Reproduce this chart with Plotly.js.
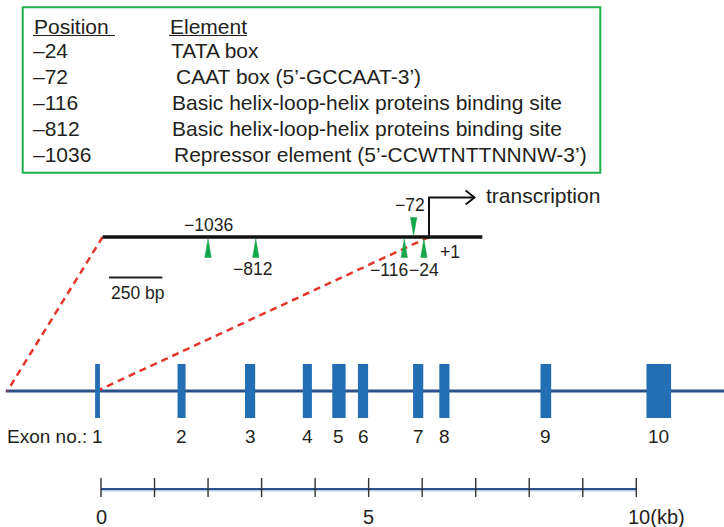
<!DOCTYPE html>
<html><head><meta charset="utf-8">
<script src="https://cdn.plot.ly/plotly-3.0.1.min.js"></script>
<style>html,body{margin:0;padding:0;background:#fff}</style>
</head><body><div id="chart" style="width:724px;height:527px"></div>
<script>
// ---------- data ----------
const tableHeaders = ['Position', 'Element'];
const tablePositions = ['–24', '–72', '–116', '–812', '–1036'];
const tableElements = ['TATA box', 'CAAT box (5’-GCCAAT-3’)', 'Basic helix-loop-helix proteins binding site',
  'Basic helix-loop-helix proteins binding site', 'Repressor element (5’-CCWTNTTNNNW-3’)'];

// promoter elements, bp relative to transcription start (+1)
const elementPos = [-1036, -812, -116, -72, -24];
const elementLabels = ['−1036', '−812', '−116', '−72', '−24'];
const elementAbove = [false, false, false, true, false];
const promoterStartBp = -1530;
const promoterEndBp = 250;
const scaleBarBp = 250;

// exons, kb
const exonNames = ['1', '2', '3', '4', '5', '6', '7', '8', '9', '10'];
const exonStart = [-0.11, 1.43, 2.69, 3.77, 4.32, 4.80, 5.83, 6.32, 8.21, 10.19];
const exonEnd   = [-0.02, 1.58, 2.88, 3.94, 4.57, 4.99, 6.02, 6.51, 8.41, 10.65];
const geneStartKb = -1.78;
const geneEndKb = 11.7;
const scaleTicksKb = [0, 1, 2, 3, 4, 5, 6, 7, 8, 9, 10];
const scaleLabelKb = [0, 5, 10];
const scaleLabelText = ['0', '5', '10(kb)'];

// ---------- layout helpers ----------
const W = 724, H = 527;
const FONT = 'Liberation Sans, Arial, Helvetica, sans-serif';
const TXT = '#231f20';
const kbRange = [-101 / 53.53, (W - 101) / 53.53];
const bpRange = [-429 / 0.2133, (W - 429) / 0.2133];
const kbToBpAxis = kb => {
  const f = (kb - kbRange[0]) / (kbRange[1] - kbRange[0]);
  return bpRange[0] + f * (bpRange[1] - bpRange[0]);
};
const pxX = p => p / W;

const traces = [];
const shapes = [];
const ann = [];
const line = (x, y, axis, color, width, dash) => traces.push({
  type: 'scatter', mode: 'lines', x, y, xaxis: axis, yaxis: 'y',
  line: {color, width, dash: dash || 'solid'}, hoverinfo: 'skip', showlegend: false
});
const text = (t, x, y, xref, size, anchor, extra) => ann.push(Object.assign({
  text: t, x, y, xref, yref: 'y', showarrow: false, xanchor: anchor || 'center', yanchor: 'middle',
  font: {family: FONT, size, color: TXT}
}, extra || {}));

// ---------- table ----------
shapes.push({type: 'rect', xref: 'paper', yref: 'y', x0: pxX(22.7), x1: pxX(600.3), y0: 7.3, y1: 172.7,
  line: {color: '#1fb04c', width: 2}, fillcolor: 'rgba(0,0,0,0)'});
const rowY = [26, 50.5, 76.5, 102.5, 128.5, 154.5];
const elemX = [169, 174, 170, 170, 172];
text(tableHeaders[0], pxX(32), rowY[0], 'paper', 21, 'left');
text(tableHeaders[1], pxX(168), rowY[0], 'paper', 21, 'left');
shapes.push({type: 'line', xref: 'paper', yref: 'y', x0: pxX(33), x1: pxX(115), y0: 35.5, y1: 35.5, line: {color: TXT, width: 1}});
shapes.push({type: 'line', xref: 'paper', yref: 'y', x0: pxX(169), x1: pxX(247), y0: 35.5, y1: 35.5, line: {color: TXT, width: 1}});
tablePositions.forEach((p, i) => {
  text(p, pxX(31), rowY[i + 1], 'paper', 21, 'left');
  text(tableElements[i], pxX(elemX[i]), rowY[i + 1], 'paper', 21, 'left');
});

// ---------- promoter ----------
const yProm = 237;
// red dashed connectors
line([promoterStartBp, kbToBpAxis(geneStartKb + 0.03)], [yProm, 391], 'x2', '#e5352b', 2.5, '7px,5px');
line([0, kbToBpAxis(exonStart[0] + 0.03)], [yProm, 391], 'x2', '#e5352b', 2.5, '7px,5px');
// promoter line
line([promoterStartBp, promoterEndBp], [yProm, yProm], 'x2', '#111111', 3.5);
// transcription arrow
line([0, 0, 213], [yProm, 197.5, 197.5], 'x2', '#111111', 2);
line([172, 213, 172], [190.5, 197.5, 204.5], 'x2', '#111111', 2);
text('transcription', 0, 195, 'x2', 21, 'left', {xshift: 55});
// element triangles
const halfW = 15;
elementPos.forEach((p, i) => {
  const ys = elementAbove[i] ? [217.5, 217.5, 235.5] : [257.5, 257.5, 239];
  traces.push({type: 'scatter', mode: 'lines', x: [p - halfW, p + halfW, p, p - halfW], y: [ys[0], ys[1], ys[2], ys[0]],
    xaxis: 'x2', yaxis: 'y', fill: 'toself', fillcolor: '#13a64b', line: {color: '#13a64b', width: 0.5},
    hoverinfo: 'skip', showlegend: false});
});
const labY = [225, 268.5, 270, 205, 270];
const labShift = [0, -3, -15, -4, 0];
elementPos.forEach((p, i) => text(elementLabels[i], p, labY[i], 'x2', 17.5, 'center', {xshift: labShift[i]}));
text('+1', 0, 252, 'x2', 17.5, 'left', {xshift: 9});
// 250 bp scale bar
const sbStart = -1500;
line([sbStart, sbStart + scaleBarBp], [277.5, 277.5], 'x2', '#222222', 2);
text(scaleBarBp + ' bp', sbStart, 293, 'x2', 17.5, 'left', {xshift: 0});

// ---------- gene ----------
line([geneStartKb, geneEndKb], [391, 391], 'x', '#2c5088', 3.2);
exonStart.forEach((s, i) => {
  shapes.push({type: 'rect', xref: 'x', yref: 'y', x0: s, x1: exonEnd[i], y0: 364, y1: 418,
    fillcolor: '#236fb4', line: {width: 0}, layer: 'above'});
  text(exonNames[i], (s + exonEnd[i]) / 2, 436, 'x', 19, 'center');
});
text('Exon no.:', exonStart[0], 436, 'x', 19, 'right', {xshift: -6});

// ---------- kb scale ----------
line([scaleTicksKb[0], scaleTicksKb[scaleTicksKb.length - 1]], [489.8, 489.8], 'x', '#b8cbe5', 3.5);
line([scaleTicksKb[0], scaleTicksKb[scaleTicksKb.length - 1]], [489, 489], 'x', '#2c5088', 2);
const tx = [], ty = [];
scaleTicksKb.forEach(k => { tx.push(k, k, null); ty.push(478, 497, null); });
line(tx, ty, 'x', '#333333', 1.4);
scaleLabelKb.forEach((k, i) => {
  if (i === scaleLabelKb.length - 1) text(scaleLabelText[i], k, 517, 'x', 20, 'left', {xshift: -10});
  else text(scaleLabelText[i], k, 517, 'x', 20, 'center');
});

const layout = {
  width: W, height: H, margin: {l: 0, r: 0, t: 0, b: 0, pad: 0},
  paper_bgcolor: '#ffffff', plot_bgcolor: '#ffffff', showlegend: false,
  xaxis: {range: kbRange, visible: false, fixedrange: true},
  xaxis2: {range: bpRange, visible: false, overlaying: 'x', anchor: 'y', fixedrange: true},
  yaxis: {range: [H, 0], visible: false, fixedrange: true},
  shapes, annotations: ann
};
Plotly.newPlot('chart', traces, layout, {displayModeBar: false, staticPlot: true});
</script></body></html>
